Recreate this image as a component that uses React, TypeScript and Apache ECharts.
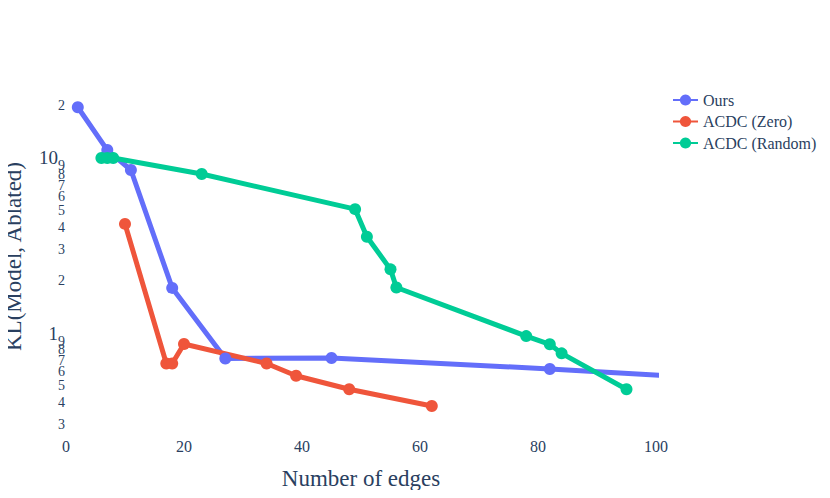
import React, { useEffect, useRef } from "react";
import * as echarts from "echarts";

const seriesNames = ["Ours", "ACDC (Zero)", "ACDC (Random)"];
const colors = ["#636efa", "#EF553B", "#00cc96"];

const oursData: [number, number][] = [
  [2, 19.5], [7, 11.1], [11, 8.54], [18, 1.81], [27, 0.715], [45, 0.72], [82, 0.623], [110, 0.551],
];
const zeroData: [number, number][] = [
  [10, 4.2], [17, 0.67], [18, 0.67], [20, 0.865], [34, 0.67], [39, 0.57], [48, 0.477], [62, 0.383],
];
const randomData: [number, number][] = [
  [6, 10], [7, 10], [8, 10], [23, 8.1], [49, 5.1], [51, 3.55], [55, 2.31], [56, 1.82],
  [78, 0.96], [82, 0.862], [84, 0.765], [95, 0.477],
];

const yTickValues = [0.3, 0.4, 0.5, 0.6, 0.7, 0.8, 0.9, 1, 2, 3, 4, 5, 6, 7, 8, 9, 10, 20];
const majorTicks = [1, 10];
const xTicks = [0, 20, 40, 60, 80, 100];

const FONT = "'Liberation Serif', 'Times New Roman', serif";
const TEXT = "#2a3f5f";

export default function App() {
  const ref = useRef<HTMLDivElement>(null);
  useEffect(() => {
    if (!ref.current) return;
    const chart = echarts.init(ref.current, undefined, { renderer: "svg" });
    const allData = [oursData, zeroData, randomData];
    chart.setOption({
      animation: false,
      backgroundColor: "#ffffff",
      textStyle: { fontFamily: FONT, color: TEXT },
      legend: {
        orient: "vertical",
        left: 667,
        top: 87,
        itemWidth: 25,
        itemHeight: 14,
        itemGap: 5.5,
        textStyle: { fontFamily: FONT, fontSize: 16, color: TEXT },
        data: seriesNames,
      },
      grid: {
        left: 66,
        right: 174,
        top: 79,
        bottom: 64,
        containLabel: false,
        outerBoundsMode: "none",
      },
      xAxis: {
        type: "value",
        min: 0,
        max: 100,
        interval: 20,
        name: "Number of edges",
        nameLocation: "middle",
        nameGap: 33,
        nameTextStyle: { fontFamily: FONT, fontSize: 23, color: TEXT },
        axisLine: { show: false },
        axisTick: { show: false },
        splitLine: { show: false },
        axisLabel: {
          fontFamily: FONT,
          fontSize: 16,
          color: TEXT,
          margin: 4,
          customValues: xTicks,
        },
      },
      yAxis: {
        type: "log",
        logBase: 10,
        min: 0.2648,
        max: 28.27,
        name: "KL(Model, Ablated)",
        nameLocation: "middle",
        nameGap: 41,
        nameTextStyle: { fontFamily: FONT, fontSize: 23, color: TEXT },
        axisLine: { show: false },
        axisTick: { show: false },
        splitLine: { show: false },
        minorSplitLine: { show: false },
        axisLabel: {
          margin: 1,
          customValues: yTickValues,
          formatter: (v: number) => {
            const r = Math.round(v * 1000) / 1000;
            if (majorTicks.indexOf(r) >= 0) return "{maj|" + r + "}";
            const s = String(r).replace("0.", "");
            return "{min|" + s.charAt(0) + "}";
          },
          rich: {
            maj: { fontFamily: FONT, fontSize: 19, color: TEXT, padding: [0, 7, 0, 0] },
            min: { fontFamily: FONT, fontSize: 14, color: TEXT },
          },
        },
      },
      series: seriesNames.map((name, i) => ({
        name,
        type: "line",
        data: allData[i],
        symbol: "circle",
        symbolSize: 12,
        showAllSymbol: true,
        clip: true,
        color: colors[i],
        lineStyle: { width: 5, color: colors[i] },
        itemStyle: { color: colors[i] },
      })),
    });
    return () => chart.dispose();
  }, []);
  return <div ref={ref} style={{ width: 830, height: 498, margin: -8 }} />;
}
